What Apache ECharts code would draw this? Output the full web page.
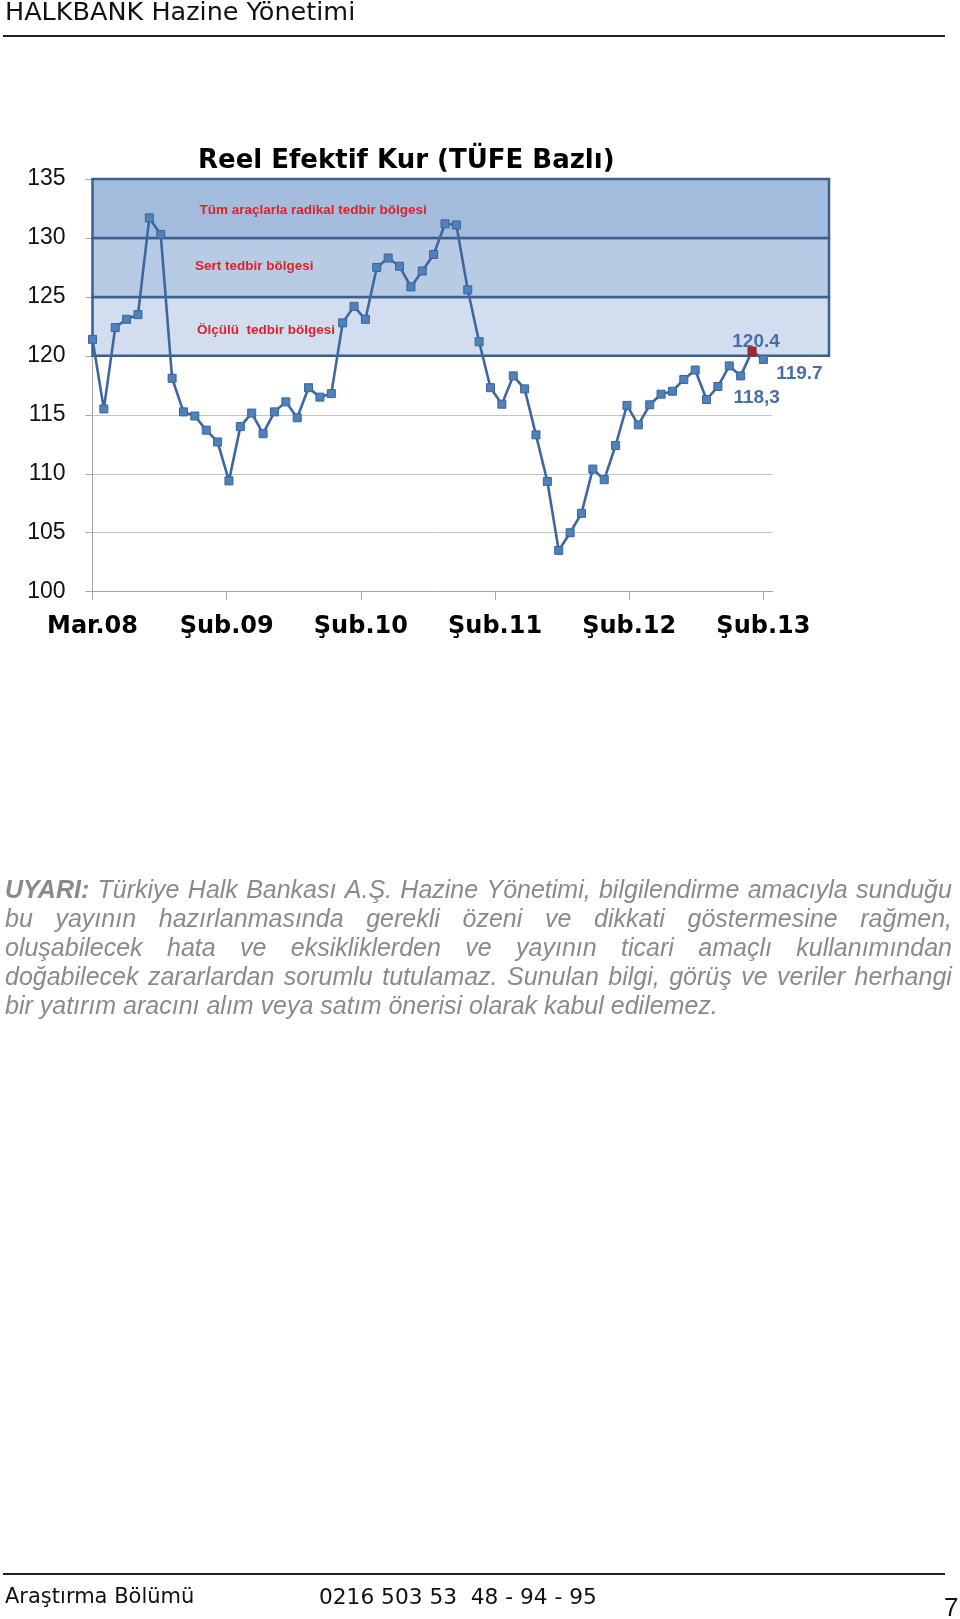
<!DOCTYPE html>
<html>
<head>
<meta charset="utf-8">
<script src="https://cdn.jsdelivr.net/npm/echarts@6/dist/echarts.min.js"></script>
<style>
html,body{margin:0;padding:0;background:#fff;}
#page{position:relative;width:960px;height:1619px;overflow:hidden;background:#fff;}
#chart{position:absolute;left:0;top:0;width:960px;height:1619px;}
#disc{position:absolute;left:5px;top:875px;width:947px;font-family:"Liberation Sans",Arial,sans-serif;font-style:italic;font-size:25px;line-height:28.9px;color:#8a8a8a;}
#disc .ln{display:flex;justify-content:space-between;white-space:nowrap;height:28.9px;}
#disc .last{display:block;white-space:pre;}
#disc b{font-weight:bold;}
</style>
</head>
<body>
<div id="page">
  <div id="chart"></div>
  <div id="disc"></div>
</div>
<script>
// ---- data ----
const values = [121.4, 115.5, 122.4, 123.1, 123.5, 131.7, 130.3, 118.1, 115.25, 114.9,
                113.7, 112.7, 109.4, 114.0, 115.15, 113.4, 115.25, 116.1, 114.75, 117.3,
                116.5, 116.8, 122.8, 124.2, 123.1, 127.5, 128.3, 127.6, 125.85, 127.2,
                128.6, 131.2, 131.1, 125.6, 121.2, 117.3, 115.9, 118.3, 117.2, 113.3,
                109.35, 103.5, 105.0, 106.65, 110.4, 109.5, 112.4, 115.8, 114.15, 115.85,
                116.75, 117.0, 118.0, 118.8, 116.3, 117.4, 119.15, 118.3, 120.4, 119.7];
const xTickLabels = ['Mar.08', 'Şub.09', 'Şub.10', 'Şub.11', 'Şub.12', 'Şub.13'];
const yTickMin = 100, yTickMax = 135, yTickStep = 5;
const bandLows  = [120, 125, 130];
const bandHighs = [125, 130, 135];
const bandNames = ['Ölçülü  tedbir bölgesi', 'Sert tedbir bölgesi', 'Tüm araçlarla radikal tedbir bölgesi'];
const highlightIndex = 58;
const labelIndices = [57, 58, 59];
const labelTexts = ['118,3', '120.4', '119.7'];
const chartTitle = 'Reel Efektif Kur (TÜFE Bazlı)';
const headerText = 'HALKBANK Hazine Yönetimi';
const footerLeft = 'Araştırma Bölümü';
const footerPhone = '0216 503 53  48 - 94 - 95';
const pageNumber = '7';
const disclaimerLines = [
  'UYARI: Türkiye Halk Bankası A.Ş. Hazine Yönetimi, bilgilendirme amacıyla sunduğu',
  'bu yayının hazırlanmasında gerekli özeni ve dikkati göstermesine rağmen,',
  'oluşabilecek hata ve eksikliklerden ve yayının ticari amaçlı kullanımından',
  'doğabilecek zararlardan sorumlu tutulamaz. Sunulan bilgi, görüş ve veriler herhangi',
  'bir yatırım aracını alım veya satım önerisi olarak kabul edilemez.'
];

// ---- layout / style ----
const TICK_STEP = 11.8;       // tick spacing in point units (as in source chart)
const X_MAX = 59.8;
const tickVals = xTickLabels.map((_, i) => +(i * TICK_STEP).toFixed(2));
const bandColors = ['#d2deef', '#b8cbe4', '#a3bbdc'];
const labelOffsets = [[16, 22], [4, -9], [36, 14]];
const GRID_TOP = 179, GRID_H = 412.7, GRID_L = 92.5;

// disclaimer (justified lines)
const disc = document.getElementById('disc');
disclaimerLines.forEach((line, li) => {
  const d = document.createElement('div');
  if (li === disclaimerLines.length - 1) {
    d.className = 'last';
    d.textContent = line;
  } else {
    d.className = 'ln';
    line.split(' ').forEach((w, wi) => {
      const s = document.createElement(li === 0 && wi === 0 ? 'b' : 'span');
      s.textContent = w;
      d.appendChild(s);
    });
  }
  disc.appendChild(d);
});

const chart = echarts.init(document.getElementById('chart'), null, {renderer: 'canvas'});

const lineData = values.map((v, i) => {
  const item = {value: [i, v]};
  if (i === highlightIndex) item.itemStyle = {color: '#b3222b', borderColor: '#8e1b21'};
  const li = labelIndices.indexOf(i);
  if (li >= 0) {
    item.label = {
      show: true, position: 'inside', offset: labelOffsets[li],
      formatter: labelTexts[li],
      color: '#4a6fa5', fontSize: 19, fontWeight: 'bold',
      fontFamily: '"Liberation Sans", Arial, sans-serif'
    };
  }
  return item;
});

const bandLabelPos = [[197, 330], [195, 266], [199.5, 210.5]];

const option = {
  animation: false,
  backgroundColor: 'transparent',
  grid: [
    {left: GRID_L, top: GRID_TOP, width: 680, height: GRID_H, containLabel: false},
    {left: GRID_L, top: GRID_TOP, width: 736.5, height: GRID_H, containLabel: false}
  ],
  xAxis: [
    {
      gridIndex: 0, type: 'value', min: 0, max: X_MAX,
      axisLine: {show: true, lineStyle: {color: '#a6a6a6', width: 1}},
      axisTick: {show: true, customValues: tickVals, length: 8, inside: false, lineStyle: {color: '#a6a6a6'}},
      axisLabel: {
        show: true, customValues: tickVals, margin: 23,
        formatter: v => xTickLabels[Math.round(v / TICK_STEP)] || '',
        color: '#000', fontSize: 24, fontWeight: 'bold',
        fontFamily: '"DejaVu Sans", Verdana, sans-serif'
      },
      splitLine: {show: false}
    },
    {gridIndex: 1, type: 'value', min: 0, max: 1, show: false}
  ],
  yAxis: [
    {
      gridIndex: 0, type: 'value', min: yTickMin, max: yTickMax, interval: yTickStep,
      axisLine: {show: true, lineStyle: {color: '#a6a6a6', width: 1}},
      axisTick: {show: true, length: 7, lineStyle: {color: '#a6a6a6'}},
      axisLabel: {
        show: true, margin: 27, color: '#111', fontSize: 23,
        fontFamily: '"Liberation Sans", Arial, sans-serif',
        padding: [7, 0, 0, 0]
      },
      splitLine: {show: true, lineStyle: {color: '#c4c4c4', width: 1}}
    },
    {gridIndex: 1, type: 'value', min: yTickMin, max: yTickMax, show: false}
  ],
  series: [
    {
      type: 'custom', xAxisIndex: 1, yAxisIndex: 1, z: 1, clip: false, silent: true,
      data: bandLows.map((lo, i) => [lo, bandHighs[i]]),
      encode: {y: [0, 1]},
      renderItem: (params, api) => {
        const lo = api.value(0), hi = api.value(1);
        const p1 = api.coord([0, hi]);
        const p2 = api.coord([1, lo]);
        return {
          type: 'rect',
          shape: {x: p1[0], y: p1[1], width: p2[0] - p1[0], height: p2[1] - p1[1]},
          style: {fill: bandColors[params.dataIndex], stroke: '#3d5f8f', lineWidth: 2.5}
        };
      }
    },
    {
      type: 'line', xAxisIndex: 0, yAxisIndex: 0, z: 5,
      data: lineData,
      symbol: 'rect', symbolSize: 8, showAllSymbol: true,
      lineStyle: {color: '#3e67a1', width: 2.6},
      itemStyle: {color: '#4f81bd', borderColor: '#3a6498', borderWidth: 1},
      label: {show: false},
      emphasis: {disabled: true}
    }
  ],
  graphic: [
    {type: 'text', z: 10, style: {text: headerText, x: 5, y: 13.5, verticalAlign: 'middle',
      font: '25.5px "DejaVu Sans", Verdana, sans-serif', fill: '#111'}},
    {type: 'line', z: 10, shape: {x1: 3, y1: 36, x2: 945, y2: 36}, style: {stroke: '#222', lineWidth: 2}},
    {type: 'text', z: 10, style: {text: chartTitle, x: 198, y: 161, verticalAlign: 'middle',
      font: 'bold 26px "DejaVu Sans", Verdana, sans-serif', fill: '#000'}},
    ...bandNames.map((n, i) => ({type: 'text', z: 10, style: {text: n, x: bandLabelPos[i][0], y: bandLabelPos[i][1],
      verticalAlign: 'middle', font: 'bold 13.5px "Liberation Sans", Arial, sans-serif', fill: '#e0202a'}})),
    {type: 'line', z: 10, shape: {x1: 3, y1: 1574, x2: 945, y2: 1574}, style: {stroke: '#222', lineWidth: 2}},
    {type: 'text', z: 10, style: {text: footerLeft, x: 5, y: 1598, verticalAlign: 'middle',
      font: '21px "DejaVu Sans", Verdana, sans-serif', fill: '#111'}},
    {type: 'text', z: 10, style: {text: footerPhone, x: 319, y: 1598, verticalAlign: 'middle',
      font: '21.7px "DejaVu Sans", Verdana, sans-serif', fill: '#111'}},
    {type: 'text', z: 10, style: {text: pageNumber, x: 944, y: 1609, verticalAlign: 'middle',
      font: '26px "Liberation Sans", Arial, sans-serif', fill: '#111'}}
  ]
};
chart.setOption(option);
</script>
</body>
</html>
